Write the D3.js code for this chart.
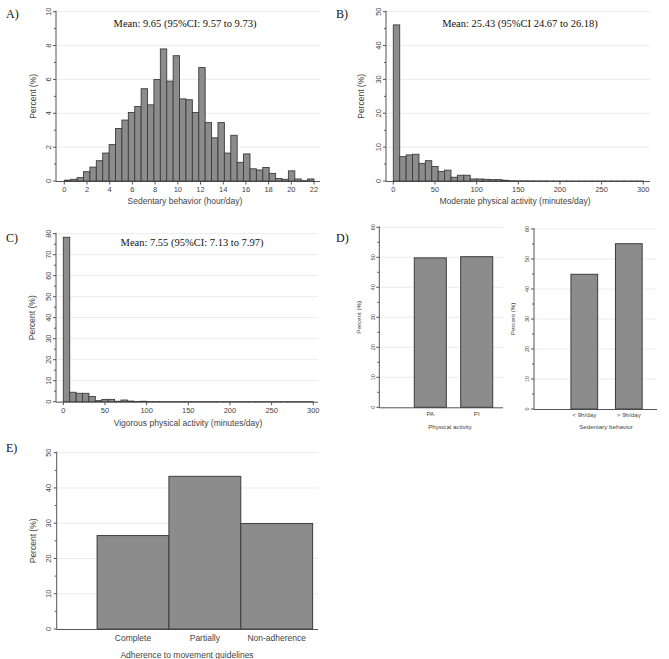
<!DOCTYPE html>
<html><head><meta charset="utf-8">
<script src="https://cdn.jsdelivr.net/npm/d3@7"></script>
<style>body{margin:0;background:#fff}svg{display:block}</style>
</head><body>
<svg id="c" width="669" height="659"></svg>
<script>
// ---------- DATA ----------
// A) Sedentary behavior histogram (39 bins over 0-22 h/day), percent
const sedMax = 22;
const sedValues = [0.05,0.1,0.2,0.55,0.82,1.2,1.65,2.15,3.1,3.6,4.05,4.4,5.45,4.5,6.0,7.8,5.9,7.4,4.85,4.8,4.05,6.7,3.45,2.55,3.45,1.65,2.7,1.1,1.6,0.72,0.65,0.8,0.45,0.15,0.1,0.6,0.12,0.02,0.12];
const sedTicks = [0,2,4,6,8,10,12,14,16,18,20,22];
// B) Moderate physical activity histogram (39 bins over 0-300 min/day)
const modMax = 300;
const modValues = [46.1,7.2,7.7,7.9,5.2,6.0,4.3,2.8,3.2,1.1,1.7,1.7,0.6,0.6,0.5,0.4,0.4,0.2,0.08,0.06,0.05,0.04,0.03,0.03,0.02,0.02,0.01,0.01,0.01,0.01,0.01,0.01,0.01,0.01,0.01,0.01,0.01,0.01,0.01];
// C) Vigorous physical activity histogram (39 bins over 0-300 min/day)
const vigMax = 300;
const vigValues = [78.3,4.5,4.0,4.0,2.5,0.5,1.1,1.1,0.2,0.8,0.3,0.1,0.2,0.05,0.05,0.03,0.02,0.02,0.02,0.01,0.01,0.01,0.01,0.01,0.01,0.01,0.01,0.01,0.01,0.01,0.01,0.01,0.01,0.01,0.01,0.01,0.01,0.01,0.01];
const minTicks = [0,50,100,150,200,250,300];
// D) Physical activity / Sedentary behavior categories
const paCats = ["PA","PI"];
const paValues = [49.8,50.2];
const sbCats = ["< 9h/day","> 9h/day"];
const sbValues = [44.9,55.1];
// E) Adherence to movement guidelines
const adhCats = ["Complete","Partially","Non-adherence"];
const adhValues = [26.5,43.3,29.9];

const means = {
  A: "Mean: 9.65 (95%CI: 9.57 to 9.73)",
  B: "Mean:  25.43 (95%CI 24.67 to 26.18)",
  C: "Mean:  7.55 (95%CI: 7.13 to 7.97)"
};

// ---------- DRAW ----------
const svg = d3.select("#c");
const SANS = "Liberation Sans, Arial, sans-serif";
const SERIF = "Liberation Serif, Times New Roman, serif";
const BAR_FILL = "#8c8c8c", BAR_STROKE = "#3c3c3c", AXIS = "#555", GRID = "#ececec", TXT = "#444";

function frame(o) {
  const g = svg.append("g");
  const y = d3.scaleLinear().domain([0, o.yMax]).range([o.yBottom, o.yTop]);
  const major = d3.range(0, o.yMax + 1e-9, o.yStep);
  const minor = d3.range(o.yStep / 2, o.yMax, o.yStep);
  // gridlines
  g.selectAll(".grid").data(major.filter(d => d > 0)).join("line")
    .attr("x1", o.axisX + 1).attr("x2", o.right)
    .attr("y1", d => y(d)).attr("y2", d => y(d))
    .attr("stroke", GRID).attr("stroke-width", 1);
  // y axis line
  g.append("line").attr("x1", o.axisX).attr("x2", o.axisX)
    .attr("y1", o.yBottom + 0.5).attr("y2", y(o.yMax) - 1)
    .attr("stroke", AXIS).attr("stroke-width", 1);
  // x axis line
  g.append("line").attr("x1", o.axisX).attr("x2", o.right)
    .attr("y1", o.yBottom + 0.5).attr("y2", o.yBottom + 0.5)
    .attr("stroke", AXIS).attr("stroke-width", 1);
  // ticks
  g.selectAll(".maj").data(major).join("line")
    .attr("x1", o.axisX - 3).attr("x2", o.axisX)
    .attr("y1", d => y(d)).attr("y2", d => y(d))
    .attr("stroke", AXIS);
  g.selectAll(".min").data(minor).join("line")
    .attr("x1", o.axisX - 2).attr("x2", o.axisX)
    .attr("y1", d => y(d)).attr("y2", d => y(d))
    .attr("stroke", AXIS);
  // tick labels (vertical)
  g.selectAll(".yl").data(major).join("text")
    .attr("transform", d => `translate(${o.tickX},${y(d)}) rotate(-90)`)
    .attr("text-anchor", "middle").attr("dy", "0.35em")
    .attr("font-family", SANS).attr("font-size", o.fs).attr("fill", TXT)
    .text(d => d);
  // y title
  g.append("text")
    .attr("transform", `translate(${o.titleX},${(o.yBottom + y(o.yMax)) / 2}) rotate(-90)`)
    .attr("text-anchor", "middle").attr("dy", "0.35em")
    .attr("font-family", SANS).attr("font-size", o.tfs).attr("fill", TXT)
    .text("Percent (%)");
  // x title
  g.append("text").attr("x", o.xTitleX).attr("y", o.xTitleY)
    .attr("text-anchor", "middle").attr("dy", "0.35em")
    .attr("font-family", SANS).attr("font-size", o.tfs).attr("fill", TXT)
    .text(o.xTitle);
  return {g, y};
}

function xTicks(g, x, ticks, yb, labelY, fs) {
  g.selectAll(".xt").data(ticks).join("line")
    .attr("x1", d => x(d)).attr("x2", d => x(d))
    .attr("y1", yb + 0.5).attr("y2", yb + 3.5).attr("stroke", AXIS);
  g.selectAll(".xl").data(ticks).join("text")
    .attr("x", d => x(d)).attr("y", labelY).attr("dy", "0.35em")
    .attr("text-anchor", "middle").attr("font-family", SANS)
    .attr("font-size", fs).attr("fill", TXT).text(d => d);
}

function hist(o, values, maxX, ticks) {
  const {g, y} = frame(o);
  const x = d3.scaleLinear().domain([0, maxX]).range([o.x0, o.x1]);
  const bw = maxX / values.length;
  const bins = values.map((v, i) => ({start: i * bw, end: (i + 1) * bw, v}));
  g.selectAll(".bar").data(bins).join("rect")
    .attr("x", d => x(d.start)).attr("width", d => x(d.end) - x(d.start))
    .attr("y", d => y(d.v)).attr("height", d => o.yBottom - y(d.v))
    .attr("fill", BAR_FILL).attr("stroke", BAR_STROKE).attr("stroke-width", 0.9);
  xTicks(g, x, ticks, o.yBottom, o.xLabelY, o.fs);
  return g;
}

function catBars(o, cats, values) {
  const {g, y} = frame(o);
  const x = d3.scaleLinear().domain([1, cats.length > 1 ? 2 : 1]).range([o.c1, o.c2]);
  const data = cats.map((c, i) => ({c, v: values[i], k: i + 1}));
  g.selectAll(".bar").data(data).join("rect")
    .attr("x", d => x(d.k - o.bw / 2)).attr("width", d => x(d.k + o.bw / 2) - x(d.k - o.bw / 2))
    .attr("y", d => y(d.v)).attr("height", d => o.yBottom - y(d.v))
    .attr("fill", BAR_FILL).attr("stroke", BAR_STROKE).attr("stroke-width", 1);
  g.selectAll(".xl").data(data).join("text")
    .attr("x", d => x(d.k)).attr("y", o.xLabelY).attr("dy", "0.35em")
    .attr("text-anchor", "middle").attr("font-family", SANS)
    .attr("font-size", o.cfs).attr("fill", TXT).text(d => d.c);
  return g;
}

function label(txt, x, y) {
  svg.append("text").attr("x", x).attr("y", y).attr("dy", "0.35em")
    .attr("font-family", SERIF).attr("font-size", 12).attr("fill", "#111").text(txt);
}
function meanText(txt, x, y) {
  svg.append("text").attr("x", x).attr("y", y).attr("dy", "0.35em")
    .attr("text-anchor", "middle").attr("font-family", SERIF)
    .attr("font-size", 10.5).attr("fill", "#111").text(txt);
}

// A
hist({axisX: 56, right: 320, yBottom: 181, yTop: 11.7, yMax: 10, yStep: 2,
      x0: 64.3, x1: 314, tickX: 48.5, titleX: 33.5, fs: 7.5, tfs: 8.5,
      xTitle: "Sedentary behavior (hour/day)", xTitleX: 185, xTitleY: 201.5, xLabelY: 189.5},
     sedValues, sedMax, sedTicks);
label("A)", 6, 13.5);
meanText(means.A, 185, 23.5);

// B
hist({axisX: 386, right: 650, yBottom: 181, yTop: 11.7, yMax: 50, yStep: 10,
      x0: 393.3, x1: 643.3, tickX: 378.5, titleX: 361, fs: 7.5, tfs: 8.5,
      xTitle: "Moderate physical activity (minutes/day)", xTitleX: 515, xTitleY: 201.5, xLabelY: 189.5},
     modValues, modMax, minTicks);
label("B)", 336, 13.5);
meanText(means.B, 520, 23.5);

// C
hist({axisX: 56, right: 318, yBottom: 401.7, yTop: 233.7, yMax: 80, yStep: 10,
      x0: 63.3, x1: 313.3, tickX: 48.5, titleX: 32.5, fs: 7.5, tfs: 8.5,
      xTitle: "Vigorous physical activity (minutes/day)", xTitleX: 188, xTitleY: 423.5, xLabelY: 410.5},
     vigValues, vigMax, minTicks);
label("C)", 6, 238);
meanText(means.C, 192, 242.5);

// D left
catBars({axisX: 379.3, right: 503, yBottom: 407.3, yTop: 227.3, yMax: 60, yStep: 10,
         c1: 430.3, c2: 476.7, bw: 0.69, tickX: 372.7, titleX: 359.3, fs: 5.5, tfs: 6.2, cfs: 6.2,
         xTitle: "Physical activity", xTitleX: 450, xTitleY: 427, xLabelY: 413.5},
        paCats, paValues);
// D right
catBars({axisX: 534, right: 657, yBottom: 409, yTop: 229, yMax: 60, yStep: 10,
         c1: 584.3, c2: 628.8, bw: 0.6, tickX: 526.7, titleX: 513.3, fs: 5.5, tfs: 6.2, cfs: 6.2,
         xTitle: "Sedentary behavior", xTitleX: 606, xTitleY: 427, xLabelY: 415},
        sbCats, sbValues);
label("D)", 336, 238);

// E
catBars({axisX: 56.7, right: 318, yBottom: 629, yTop: 452.7, yMax: 50, yStep: 10,
         c1: 133, c2: 204.85, bw: 1.0, tickX: 48.5, titleX: 32.7, fs: 7.5, tfs: 8.5, cfs: 8.5,
         xTitle: "Adherence to movement guidelines", xTitleX: 187, xTitleY: 655, xLabelY: 638.5},
        adhCats, adhValues);
label("E)", 6, 448);
</script>
</body></html>
